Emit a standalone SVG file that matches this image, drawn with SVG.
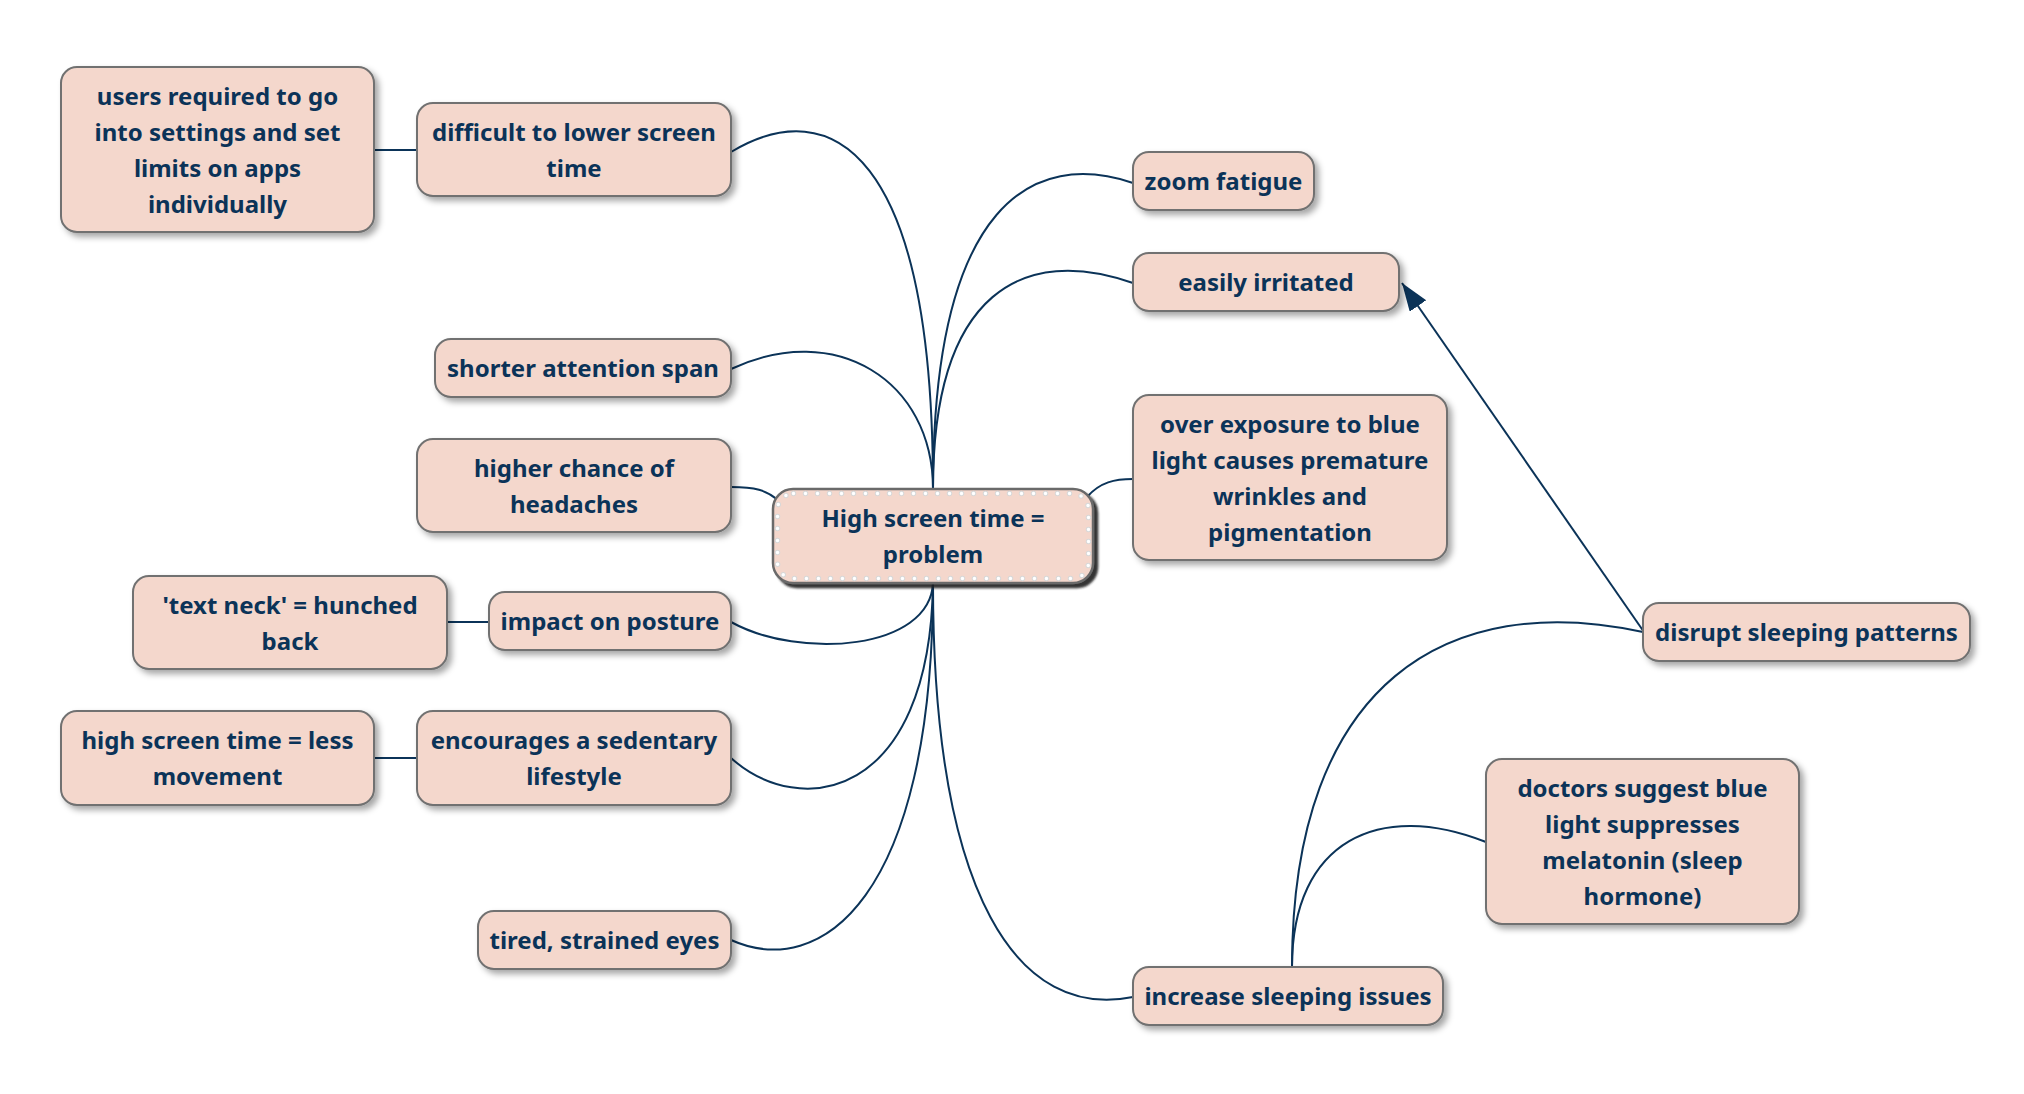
<svg xmlns="http://www.w3.org/2000/svg" width="2024" height="1094" viewBox="0 0 2024 1094">
<defs>
<filter id="sh" x="-10%" y="-20%" width="130%" height="150%">
<feDropShadow dx="4" dy="4" stdDeviation="3" flood-color="#000" flood-opacity="0.35"/>
</filter>
<filter id="shc" x="-10%" y="-20%" width="130%" height="150%">
<feDropShadow dx="4" dy="4" stdDeviation="1" flood-color="#1a1a1a" flood-opacity="0.9"/>
</filter>
<marker id="arr" markerUnits="userSpaceOnUse" markerWidth="30" markerHeight="22" refX="28" refY="10" orient="auto">
<path d="M0,0 L28,10 L0,20 z" fill="#0b3358"/>
</marker>
<style>
.box{fill:#f4d7cc;stroke:#717171;stroke-width:2;filter:url(#sh)}
.cbox{fill:#f4d7cc;stroke:#6a6a6a;stroke-width:2.5;filter:url(#shc)}
.dots1{fill:none;stroke:#d8d8d8;stroke-width:5.5;stroke-linecap:round;stroke-dasharray:0 12}
.dots2{fill:none;stroke:#ffffff;stroke-width:3.5;stroke-linecap:round;stroke-dasharray:0 12}
text{font-family:"Noto Sans","Open Sans","DejaVu Sans",sans-serif;font-weight:bold;font-size:24px;fill:#0b3358;text-anchor:middle}
.ln{fill:none;stroke:#0b3358;stroke-width:2}
</style>
</defs>
<rect width="2024" height="1094" fill="#ffffff"/>
<g id="connectors">
<path class="ln" d="M374,150 L417,150"/>
<path class="ln" d="M447,622 L489,622"/>
<path class="ln" d="M374,758 L417,758"/>
<path class="ln" d="M933,489 C933,150 831,92 731,152"/>
<path class="ln" d="M933,489 C933,380 835,320 731,369"/>
<path class="ln" d="M778,500 C766,490 755,487 731,487"/>
<path class="ln" d="M933,489 C933,200 1035,150 1133,183"/>
<path class="ln" d="M933,489 C933,290 1025,245 1133,283"/>
<path class="ln" d="M1087,497 C1100,482 1115,479 1133,479"/>
<path class="ln" d="M933,583 C930,650 800,660 731,622"/>
<path class="ln" d="M933,583 C930,800 800,820 731,758"/>
<path class="ln" d="M933,583 C933,900 820,980 731,940"/>
<path class="ln" d="M933,583 C933,900 1020,1020 1133,997"/>
<path class="ln" d="M1292,967 C1292,680 1450,590 1643,632"/>
<path class="ln" d="M1292,967 C1292,840 1380,800 1486,842"/>
<path class="ln" d="M1644,632 L1402,283" marker-end="url(#arr)"/>
</g>
<g id="n-users"><rect class="box" x="61" y="67" width="313" height="165" rx="16"/>
<text x="217.5" y="104.5">users required to go</text><text x="217.5" y="140.5">into settings and set</text><text x="217.5" y="176.5">limits on apps</text><text x="217.5" y="212.5">individually</text></g>
<g id="n-difficult"><rect class="box" x="417" y="103" width="314" height="93" rx="16"/>
<text x="574" y="140.5">difficult to lower screen</text><text x="574" y="176.5">time</text></g>
<g id="n-zoom"><rect class="box" x="1133" y="152" width="181" height="58" rx="16"/>
<text x="1223.5" y="190">zoom fatigue</text></g>
<g id="n-irritated"><rect class="box" x="1133" y="253" width="266" height="58" rx="16"/>
<text x="1266" y="291">easily irritated</text></g>
<g id="n-attention"><rect class="box" x="435" y="339" width="296" height="58" rx="16"/>
<text x="583" y="377">shorter attention span</text></g>
<g id="n-exposure"><rect class="box" x="1133" y="395" width="314" height="165" rx="16"/>
<text x="1290" y="432.5">over exposure to blue</text><text x="1290" y="468.5">light causes premature</text><text x="1290" y="504.5">wrinkles and</text><text x="1290" y="540.5">pigmentation</text></g>
<g id="n-headaches"><rect class="box" x="417" y="439" width="314" height="93" rx="16"/>
<text x="574" y="476.5">higher chance of</text><text x="574" y="512.5">headaches</text></g>
<g id="n-center"><rect class="cbox" x="773" y="489" width="320" height="94" rx="20"/>
<rect class="dots1" x="777.5" y="493.5" width="311" height="85" rx="16"/>
<rect class="dots2" x="777.5" y="493.5" width="311" height="85" rx="16"/>
<text x="933" y="527">High screen time =</text><text x="933" y="563">problem</text></g>
<g id="n-textneck"><rect class="box" x="133" y="576" width="314" height="93" rx="16"/>
<text x="290" y="613.5">'text neck' = hunched</text><text x="290" y="649.5">back</text></g>
<g id="n-posture"><rect class="box" x="489" y="592" width="242" height="58" rx="16"/>
<text x="610" y="630">impact on posture</text></g>
<g id="n-disrupt"><rect class="box" x="1643" y="603" width="327" height="58" rx="16"/>
<text x="1806.5" y="641">disrupt sleeping patterns</text></g>
<g id="n-movement"><rect class="box" x="61" y="711" width="313" height="94" rx="16"/>
<text x="217.5" y="749">high screen time = less</text><text x="217.5" y="785">movement</text></g>
<g id="n-sedentary"><rect class="box" x="417" y="711" width="314" height="94" rx="16"/>
<text x="574" y="749">encourages a sedentary</text><text x="574" y="785">lifestyle</text></g>
<g id="n-doctors"><rect class="box" x="1486" y="759" width="313" height="165" rx="16"/>
<text x="1642.5" y="796.5">doctors suggest blue</text><text x="1642.5" y="832.5">light suppresses</text><text x="1642.5" y="868.5">melatonin (sleep</text><text x="1642.5" y="904.5">hormone)</text></g>
<g id="n-eyes"><rect class="box" x="478" y="911" width="253" height="58" rx="16"/>
<text x="604.5" y="949">tired, strained eyes</text></g>
<g id="n-sleeping"><rect class="box" x="1133" y="967" width="310" height="58" rx="16"/>
<text x="1288" y="1005">increase sleeping issues</text></g>
</svg>
